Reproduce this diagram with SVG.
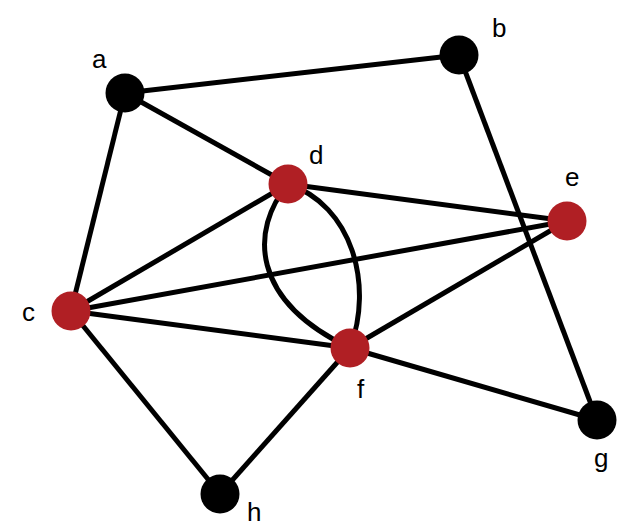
<svg xmlns="http://www.w3.org/2000/svg" width="634" height="527" viewBox="0 0 634 527">
<style>
.e{stroke:#000;stroke-width:5;fill:none}
.k{fill:#000}
.r{fill:#b01f24}
text{font-family:"Liberation Sans",Arial,sans-serif;font-size:26px;fill:#000}
</style>
<rect width="634" height="527" fill="#fff"/>
<g id="edges">
<line class="e" x1="125" y1="93" x2="459" y2="55"/>
<line class="e" x1="125" y1="93" x2="288" y2="184"/>
<line class="e" x1="125" y1="93" x2="71" y2="311"/>
<line class="e" x1="459" y1="55" x2="597" y2="420"/>
<line class="e" x1="288" y1="184" x2="567" y2="221"/>
<line class="e" x1="288" y1="184" x2="71" y2="311"/>
<path class="e" d="M288,184 C250,230 250,300 350,348"/>
<path class="e" d="M288,184 C352,205 374,285 350,348"/>
<line class="e" x1="567" y1="221" x2="71" y2="311"/>
<line class="e" x1="567" y1="221" x2="350" y2="348"/>
<line class="e" x1="71" y1="311" x2="350" y2="348"/>
<line class="e" x1="71" y1="311" x2="220" y2="494"/>
<line class="e" x1="350" y1="348" x2="220" y2="494"/>
<line class="e" x1="350" y1="348" x2="597" y2="420"/>
</g>
<g id="a"><circle class="k" cx="125" cy="93" r="19.5"/><text x="92" y="68">a</text></g>
<g id="b"><circle class="k" cx="459" cy="55" r="19.5"/><text x="492" y="37">b</text></g>
<g id="d"><circle class="r" cx="288" cy="184" r="19.5"/><text x="309" y="164">d</text></g>
<g id="e"><circle class="r" cx="567" cy="221" r="19.5"/><text x="565" y="186">e</text></g>
<g id="c"><circle class="r" cx="71" cy="311" r="19.5"/><text x="22" y="321">c</text></g>
<g id="f"><circle class="r" cx="350" cy="348" r="19.5"/><text x="357" y="398">f</text></g>
<g id="g"><circle class="k" cx="597" cy="420" r="19.5"/><text x="594" y="467">g</text></g>
<g id="h"><circle class="k" cx="220" cy="494" r="19.5"/><text x="247" y="521">h</text></g>
</svg>
